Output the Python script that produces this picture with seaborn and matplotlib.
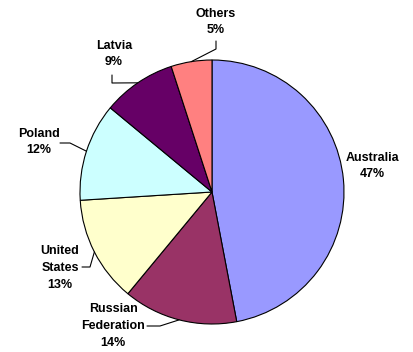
import matplotlib
matplotlib.use("Agg")
import matplotlib.pyplot as plt
import seaborn as sns
import numpy as np

categories = ["Australia", "Russian\nFederation", "United\nStates", "Poland", "Latvia", "Others"]
values = [47, 14, 13, 12, 9, 5]
colors = ["#9999FF", "#993366", "#FFFFCC", "#CCFFFF", "#660066", "#FF8080"]

sns.set_theme(style="white")
plt.rcParams['font.family'] = ['Liberation Sans', 'DejaVu Sans']

W, H = 414, 352
CX, CY, R = 212, 192, 132

fig = plt.figure(figsize=(W / 100, H / 100), dpi=100)
ax = fig.add_axes([0, 0, 1, 1])

wedges, _ = ax.pie(values, colors=colors, startangle=90, counterclock=False,
                   wedgeprops=dict(edgecolor="black", linewidth=0.8))

ax.set_xlim(-CX / R, (W - CX) / R)
ax.set_ylim(-(H - CY) / R, CY / R)
ax.set_aspect("equal")
ax.axis("off")


def P(x, y):
    return ((x - CX) / R, (CY - y) / R)


# label centre (px) and elbow points (px) for leader lines
label_pos = [(372, 166), (113, 326), (60, 268), (39, 142), (114, 54), (216, 22)]
leaders = [None,
           [(147, 326), (160, 326)],
           [(82, 267), (90, 267)],
           [(60, 143), (70, 143)],
           [(112, 75), (112, 83)],
           [(216, 41), (216, 49)]]

for w, cat, v, lp, ld in zip(wedges, categories, values, label_pos, leaders):
    x, y = P(*lp)
    ax.text(x, y, f"{cat}\n{v}%", ha="center", va="center", fontsize=9,
            fontweight="bold", linespacing=1.5, color="black")
    if ld is not None:
        mid = np.deg2rad((w.theta1 + w.theta2) / 2)
        ex, ey = np.cos(mid), np.sin(mid)
        pts = [P(*p) for p in ld] + [(ex, ey)]
        ax.plot([p[0] for p in pts], [p[1] for p in pts], color="black", lw=0.8)

fig.savefig("out.png", dpi=100, facecolor="white")
